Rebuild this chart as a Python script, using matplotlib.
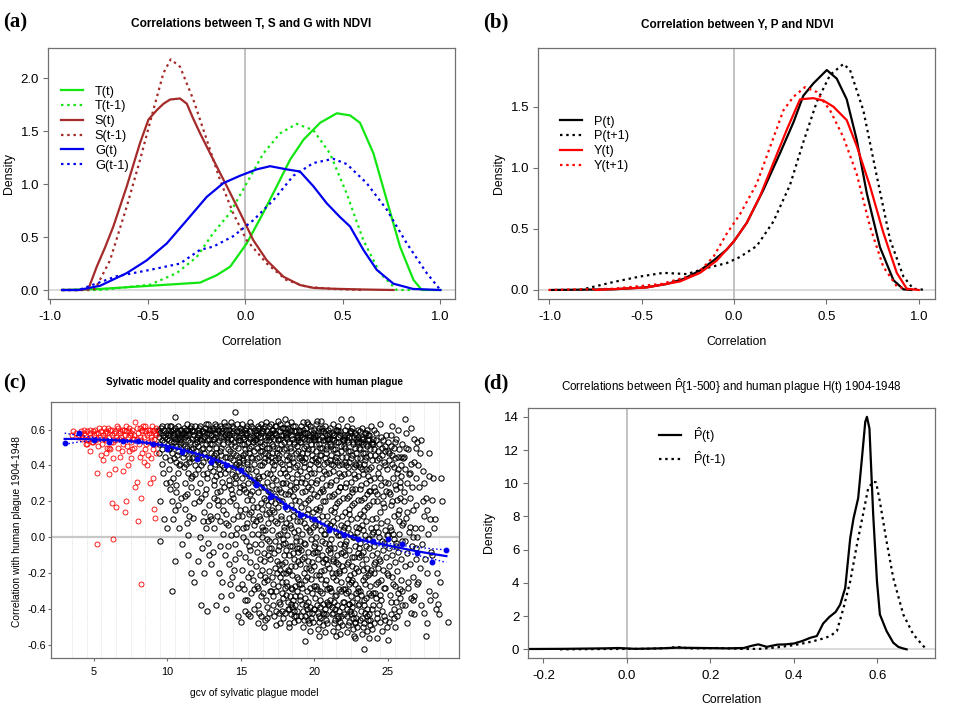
import numpy as np
import matplotlib
matplotlib.use('Agg')
import matplotlib.pyplot as plt

plt.rcParams['font.family'] = ['Liberation Sans', 'DejaVu Sans']
plt.rcParams['mathtext.fontset'] = 'custom'
plt.rcParams['mathtext.rm'] = 'Liberation Sans'
plt.rcParams['mathtext.it'] = 'Liberation Sans:italic'

GREEN, BROWN, BLUE, RED = '#11e611', '#a52a2a', '#0000ee', '#ff0000'
DOT = (0, (1.1, 1.7))

# ---- (a) density of correlations T, S, G with NDVI ---------------------------
st_x = [-0.94, -0.85, -0.805, -0.762, -0.72, -0.677, -0.608, -0.54, -0.497, -0.454, -0.42,
        -0.386, -0.335, -0.30, -0.27, -0.232, -0.164, -0.095, -0.027, 0.041, 0.11, 0.195,
        0.28, 0.35, 0.45, 0.6, 0.76]
st_y = [0, 0, 0.01, 0.22, 0.40, 0.60, 0.98, 1.39, 1.61, 1.70, 1.76, 1.80, 1.81, 1.76, 1.63,
        1.48, 1.23, 0.98, 0.73, 0.47, 0.28, 0.126, 0.047, 0.02, 0.012, 0.005, 0]
st1_x = [-0.94, -0.80, -0.77, -0.694, -0.608, -0.54, -0.472, -0.42, -0.383, -0.335, -0.267,
         -0.198, -0.13, -0.061, 0.007, 0.11, 0.21, 0.315, 0.45, 0.60]
st1_y = [0, 0, 0.01, 0.28, 0.79, 1.23, 1.70, 2.05, 2.18, 2.11, 1.80, 1.42, 1.04, 0.72, 0.47,
         0.25, 0.095, 0.03, 0.01, 0]
tt_x = [-0.94, -0.745, -0.489, -0.232, -0.147, -0.078, 0.007, 0.092, 0.161, 0.229, 0.298,
        0.383, 0.469, 0.537, 0.588, 0.657, 0.725, 0.793, 0.862, 0.905, 1.0]
tt_y = [0, 0.01, 0.04, 0.07, 0.14, 0.22, 0.44, 0.73, 0.98, 1.23, 1.42, 1.58, 1.67, 1.65, 1.58,
        1.29, 0.85, 0.41, 0.095, 0.0, 0]
tt1_x = [-0.94, -0.745, -0.489, -0.352, -0.25, -0.164, -0.078, 0.007, 0.092, 0.178, 0.263,
         0.349, 0.434, 0.52, 0.605, 0.69, 0.776, 0.85]
tt1_y = [0, 0, 0.05, 0.16, 0.31, 0.54, 0.73, 1.01, 1.29, 1.48, 1.57, 1.51, 1.29, 0.91, 0.47,
         0.16, 0, 0]
gt_x = [-0.94, -0.856, -0.745, -0.608, -0.506, -0.403, -0.30, -0.198, -0.113, -0.027, 0.058,
        0.127, 0.212, 0.28, 0.349, 0.417, 0.485, 0.537, 0.605, 0.674, 0.759, 0.86, 1.0]
gt_y = [0, 0, 0.04, 0.16, 0.28, 0.44, 0.66, 0.88, 1.01, 1.08, 1.14, 1.17, 1.14, 1.12, 0.98,
        0.82, 0.69, 0.60, 0.38, 0.19, 0.06, 0.01, 0]
gt1_x = [-0.94, -0.856, -0.66, -0.489, -0.335, -0.232, -0.164, -0.061, 0.041, 0.144, 0.246,
         0.349, 0.451, 0.52, 0.622, 0.725, 0.828, 0.93, 1.0]
gt1_y = [0, 0, 0.13, 0.19, 0.25, 0.38, 0.41, 0.51, 0.66, 0.85, 1.08, 1.20, 1.24, 1.19, 1.01,
         0.76, 0.44, 0.16, 0]

# ---- (b) density of correlations Y, P with NDVI -------------------------------
pt_x = [-0.987, -0.653, -0.473, -0.364, -0.274, -0.184, -0.112, -0.04, 0.0, 0.069, 0.159,
        0.249, 0.321, 0.375, 0.429, 0.502, 0.556, 0.61, 0.664, 0.719, 0.79, 0.863, 0.917, 0.96]
pt_y = [0, 0.005, 0.022, 0.049, 0.09, 0.16, 0.24, 0.33, 0.40, 0.55, 0.82, 1.12, 1.37, 1.59,
        1.69, 1.80, 1.73, 1.56, 1.23, 0.79, 0.35, 0.08, 0.005, 0]
pt1_x = [-0.834, -0.653, -0.509, -0.383, -0.256, -0.148, -0.04, 0.032, 0.123, 0.213, 0.303,
         0.375, 0.448, 0.52, 0.592, 0.628, 0.70, 0.773, 0.845, 0.917, 0.97, 1.04]
pt1_y = [0, 0.065, 0.11, 0.14, 0.13, 0.18, 0.22, 0.27, 0.36, 0.56, 0.86, 1.21, 1.54, 1.76,
         1.85, 1.80, 1.47, 0.93, 0.41, 0.11, 0.01, 0]
yt_x = [-0.75, -0.473, -0.292, -0.184, -0.094, 0.0, 0.069, 0.141, 0.213, 0.285, 0.357, 0.429,
        0.484, 0.538, 0.61, 0.664, 0.736, 0.808, 0.881, 0.935, 1.0]
yt_y = [0, 0.02, 0.07, 0.14, 0.24, 0.40, 0.55, 0.77, 1.04, 1.31, 1.56, 1.57, 1.55, 1.50, 1.39,
        1.18, 0.85, 0.47, 0.14, 0.01, 0]
yt1_x = [-1.005, -0.653, -0.39, -0.202, -0.112, -0.04, 0.032, 0.123, 0.195, 0.267, 0.321,
         0.384, 0.448, 0.52, 0.592, 0.664, 0.736, 0.808, 0.881, 0.95]
yt1_y = [0, 0.01, 0.05, 0.13, 0.27, 0.46, 0.62, 0.87, 1.17, 1.47, 1.58, 1.66, 1.62, 1.47, 1.25,
         0.95, 0.52, 0.19, 0.03, 0]

# ---- (c) sylvatic model gcv vs correlation with human plague ------------------
RED_PTS = """
3.5,.57 3.6,.59 3.8,.58 4.0,.57 4.1,.59 4.2,.56 4.3,.58 4.4,.57 4.5,.59 4.6,.55 4.7,.58 4.8,.56
4.9,.59 5.0,.57 5.1,.60 5.2,.55 5.3,.58 5.4,.56 5.5,.59 5.6,.57 5.7,.61 5.8,.54 5.9,.58 6.0,.56
6.1,.60 6.2,.57 6.3,.53 6.4,.59 6.5,.56 6.6,.61 6.7,.55 6.8,.58 6.9,.60 7.0,.54 7.1,.57 7.2,.62
7.3,.56 7.4,.59 7.5,.53 7.6,.60 7.7,.57 7.8,.64 7.9,.55 8.0,.58 8.1,.61 8.2,.54 8.3,.59 8.4,.56
8.5,.62 8.6,.57 8.7,.53 8.8,.60 8.9,.56 9.0,.59 9.1,.55 9.2,.61 9.25,.57
3.9,.56 4.15,.55 4.35,.60 4.55,.54 4.75,.60 4.95,.53 5.15,.58 5.35,.61 5.55,.52 5.75,.58 5.95,.61
6.15,.53 6.35,.58 6.55,.62 6.75,.59 6.95,.52 7.15,.59 7.35,.61 7.55,.58 7.75,.55 7.95,.61 8.15,.56
8.35,.62 8.55,.52 8.75,.58 8.95,.62 9.15,.58 9.2,.52
4.45,.52 4.85,.53 5.25,.51 5.65,.55 6.05,.50 6.45,.54 6.85,.56 7.25,.51 7.65,.55 8.05,.52 8.45,.59
8.85,.54 9.05,.52 5.05,.54 6.25,.60 7.45,.57 8.25,.60 8.65,.60 9.1,.60 7.05,.60 5.85,.59
4.5,.52 4.7,.48 5.2,.36 5.5,.46 5.6,.43 5.8,.47 6.0,.35 6.1,.49 6.2,.19 6.3,.44 6.4,.38 6.5,.17
6.6,.50 6.8,.45 7.0,.37 7.1,.14 7.2,.20 7.3,.40 7.4,.48 7.5,.44 7.6,.49 7.8,.28 7.9,.31 8.0,.09
8.1,.45 8.2,.22 8.3,.47 8.4,.42 8.6,.40 8.7,.46 8.8,.30 8.9,.44 9.0,.33 9.1,.16 9.15,.11 9.2,.47
5.2,-.035 6.3,-.01 8.2,-.26 5.9,.50 6.9,.48 7.7,.50 8.5,.49 9.0,.49
"""

BLACK_PTS = """
9.35,.60 9.4,.56 9.45,.52 9.5,.58 9.55,.61 9.6,.54 9.65,.49 9.7,.57 9.75,.60 9.8,.53 9.85,.45
9.9,.58 9.95,.62 9.4,.47 9.6,.41 9.7,.36 9.5,.20 9.5,-.02 9.8,.10 9.9,.30 9.45,.59 9.65,.62 9.85,.56
10.0,.55 10.05,.60 10.1,.50 10.15,.58 10.2,.62 10.25,.53 10.3,.47 10.35,.57 10.4,.60 10.45,.44
10.5,.55 10.55,.67 10.6,.51 10.65,.59 10.7,.62 10.75,.48 10.8,.56 10.85,.41 10.9,.53 10.95,.60
10.1,.38 10.2,.27 10.3,.20 10.4,.33 10.5,.15 10.6,.25 10.7,.36 10.8,.05 10.9,.22 10.5,-.13
10.3,-.30 10.2,.43 10.6,.42 10.0,.05 10.7,.18 10.4,.10
11.0,.58 11.05,.52 11.1,.61 11.15,.47 11.2,.56 11.25,.60 11.3,.50 11.35,.63 11.4,.54 11.45,.44
11.5,.58 11.55,.61 11.6,.49 11.65,.55 11.7,.60 11.75,.45 11.8,.57 11.85,.52 11.9,.62 11.95,.48
11.1,.39 11.2,.30 11.3,.24 11.4,.36 11.5,.12 11.6,.28 11.7,.34 11.8,.19 11.9,.40 11.0,-.04
11.4,.01 11.6,-.20 11.3,.08 11.8,-.25 11.5,.42 11.2,.16
12.0,.56 12.05,.60 12.1,.51 12.15,.58 12.2,.46 12.25,.62 12.3,.54 12.35,.49 12.4,.59 12.45,.42
12.5,.56 12.55,.61 12.6,.52 12.65,.45 12.7,.58 12.75,.63 12.8,.50 12.85,.55 12.9,.60 12.95,.47
12.1,.38 12.2,.30 12.3,.22 12.4,.35 12.5,.14 12.6,.27 12.7,.33 12.8,.18 12.9,.39 12.0,.25
12.3,-.38 12.7,-.41 12.5,-.20 12.8,-.10 12.2,.00 12.6,.05 12.4,.09 12.9,.12 12.1,-.13 12.75,-.03
13.0,.57 13.05,.52 13.1,.61 13.15,.46 13.2,.55 13.25,.63 13.3,.50 13.35,.58 13.4,.43 13.45,.60
13.5,.54 13.55,.48 13.6,.62 13.65,.56 13.7,.40 13.75,.59 13.8,.52 13.85,.64 13.9,.45 13.95,.57
13.1,.37 13.2,.29 13.3,.34 13.4,.21 13.5,.38 13.6,.26 13.7,.31 13.8,.15 13.9,.36 13.0,.10
13.2,.05 13.4,.12 13.6,-.05 13.8,.02 13.0,-.15 13.5,-.20 13.3,-.38 13.7,-.25 13.9,-.10 13.15,.22
13.45,.18 13.85,.28 13.55,.09 13.25,.41
14.0,.60 14.05,.55 14.1,.49 14.15,.62 14.2,.57 14.25,.44 14.3,.52 14.35,.64 14.4,.58 14.45,.47
14.5,.61 14.55,.53 14.6,.70 14.65,.41 14.7,.56 14.75,.63 14.8,.50 14.85,.59 14.9,.45 14.95,.54
14.1,.38 14.2,.32 14.3,.27 14.4,.35 14.5,.22 14.6,.30 14.7,.18 14.8,.37 14.9,.25 14.0,.13
14.15,.07 14.3,.01 14.45,.10 14.6,-.04 14.75,.05 14.9,-.09 14.0,-.40 14.2,-.15 14.4,-.22
14.6,-.12 14.8,-.28 14.35,-.32 14.95,.15 14.25,.20 14.65,.33 14.85,.42 14.55,.39
15.0,.58 15.05,.52 15.1,.63 15.15,.46 15.2,.55 15.25,.60 15.3,.49 15.35,.57 15.4,.42 15.45,.62
15.5,.53 15.55,.47 15.6,.59 15.65,.64 15.7,.51 15.75,.44 15.8,.56 15.85,.61 15.9,.48 15.95,.54
15.0,.39 15.1,.33 15.2,.27 15.3,.36 15.4,.21 15.5,.30 15.6,.24 15.7,.38 15.8,.17 15.9,.32
15.05,.12 15.15,.05 15.25,.16 15.35,-.02 15.45,.08 15.55,.13 15.65,-.07 15.75,.02 15.85,.10
15.95,-.04 15.0,-.47 15.1,-.18 15.2,-.29 15.3,-.11 15.4,-.35 15.5,-.22 15.6,-.14 15.7,-.31
15.8,-.24 15.9,-.40 15.15,.43 15.45,.41 15.75,.26 15.25,-.41 15.65,-.44
16.0,.60 16.05,.55 16.1,.50 16.15,.62 16.2,.57 16.25,.45 16.3,.53 16.35,.63 16.4,.58 16.45,.48
16.5,.61 16.55,.52 16.6,.42 16.65,.56 16.7,.64 16.75,.50 16.8,.59 16.85,.46 16.9,.54 16.95,.62
16.0,.37 16.1,.31 16.2,.25 16.3,.40 16.4,.19 16.5,.34 16.6,.28 16.7,.21 16.8,.36 16.9,.14
16.05,.09 16.15,.02 16.25,.12 16.35,-.04 16.45,.06 16.55,-.09 16.65,.04 16.75,-.01 16.85,.08
16.95,-.06 16.0,-.16 16.1,-.27 16.2,-.38 16.3,-.21 16.4,-.44 16.5,-.31 16.6,-.13 16.7,-.35
16.8,-.24 16.9,-.42 16.15,-.48 16.55,-.50 16.75,-.45 16.95,-.19 16.25,.33 16.65,.44 16.85,.26
16.45,.16
17.0,.58 17.05,.63 17.1,.52 17.15,.47 17.2,.60 17.25,.55 17.3,.43 17.35,.62 17.4,.57 17.45,.50
17.5,.65 17.55,.54 17.6,.46 17.65,.59 17.7,.63 17.75,.52 17.8,.41 17.85,.57 17.9,.61 17.95,.49
17.0,.35 17.1,.29 17.2,.38 17.3,.23 17.4,.32 17.5,.17 17.6,.27 17.7,.36 17.8,.20 17.9,.30
17.05,.11 17.15,.04 17.25,.14 17.35,-.02 17.45,.08 17.55,-.07 17.65,.02 17.75,.10 17.85,-.04
17.95,.06 17.0,-.12 17.1,-.22 17.2,-.33 17.3,-.17 17.4,-.41 17.5,-.27 17.6,-.15 17.7,-.37
17.8,-.25 17.9,-.45 17.05,-.30 17.25,-.44 17.45,-.20 17.65,-.48 17.85,-.34 17.15,.42 17.55,.44
17.75,.25 17.35,.19 17.95,-.10
18.0,.61 18.05,.56 18.1,.50 18.15,.63 18.2,.58 18.25,.45 18.3,.53 18.35,.60 18.4,.48 18.45,.64
18.5,.55 18.55,.42 18.6,.59 18.65,.52 18.7,.62 18.75,.47 18.8,.57 18.85,.40 18.9,.54 18.95,.60
18.0,.36 18.1,.30 18.2,.24 18.3,.38 18.4,.18 18.5,.33 18.6,.27 18.7,.21 18.8,.35 18.9,.13
18.05,.08 18.15,.01 18.25,.11 18.35,-.05 18.45,.05 18.55,-.09 18.65,.03 18.75,-.02 18.85,.09
18.95,-.06 18.0,-.14 18.1,-.25 18.2,-.36 18.3,-.19 18.4,-.43 18.5,-.29 18.6,-.12 18.7,-.38
18.8,-.22 18.9,-.46 18.05,-.32 18.25,-.48 18.45,-.16 18.65,-.41 18.85,-.30 18.15,.43 18.35,.26
18.55,.15 18.75,.31 18.95,.44 18.0,.66 18.3,-.50 18.5,-.39 18.7,-.27 18.9,-.08
19.0,.59 19.05,.53 19.1,.62 19.15,.47 19.2,.56 19.25,.64 19.3,.50 19.35,.58 19.4,.44 19.45,.61
19.5,.55 19.55,.49 19.6,.63 19.65,.57 19.7,.41 19.75,.60 19.8,.52 19.85,.46 19.9,.58 19.95,.54
19.0,.37 19.1,.31 19.2,.25 19.3,.39 19.4,.19 19.5,.34 19.6,.28 19.7,.22 19.8,.36 19.9,.14
19.05,.09 19.15,.02 19.25,.12 19.35,-.04 19.45,.06 19.55,-.08 19.65,.04 19.75,-.01 19.85,.10
19.95,-.05 19.0,-.15 19.1,-.26 19.2,-.37 19.3,-.20 19.4,-.44 19.5,-.30 19.6,-.13 19.7,-.39
19.8,-.23 19.9,-.47 19.05,-.33 19.25,-.50 19.45,-.17 19.65,-.42 19.85,-.31 19.4,-.58 19.15,.43
19.55,.16 19.75,.27 19.35,.30 19.95,-.40 19.5,.64
20.0,.60 20.05,.55 20.1,.48 20.15,.63 20.2,.57 20.25,.43 20.3,.52 20.35,.61 20.4,.46 20.45,.65
20.5,.56 20.55,.50 20.6,.59 20.65,.41 20.7,.54 20.75,.62 20.8,.47 20.85,.57 20.9,.51 20.95,.60
20.0,.36 20.1,.30 20.2,.23 20.3,.38 20.4,.17 20.5,.33 20.6,.26 20.7,.20 20.8,.35 20.9,.12
20.05,.07 20.15,.00 20.25,.10 20.35,-.06 20.45,.04 20.55,-.10 20.65,.02 20.75,-.03 20.85,.08
20.95,-.07 20.0,-.16 20.1,-.27 20.2,-.38 20.3,-.21 20.4,-.45 20.5,-.31 20.6,-.14 20.7,-.40
20.8,-.24 20.9,-.48 20.05,-.34 20.25,-.51 20.45,-.19 20.65,-.43 20.85,-.29 20.15,.42 20.35,.15
20.55,.27 20.75,.44 20.95,-.37 20.3,-.55 20.7,-.12 20.2,.65
21.0,.58 21.05,.52 21.1,.61 21.15,.46 21.2,.55 21.25,.63 21.3,.49 21.35,.57 21.4,.43 21.45,.60
21.5,.53 21.55,.47 21.6,.62 21.65,.56 21.7,.40 21.75,.59 21.8,.51 21.85,.66 21.9,.45 21.95,.55
21.0,.36 21.1,.29 21.2,.23 21.3,.37 21.4,.17 21.5,.32 21.6,.26 21.7,.20 21.8,.34 21.9,.12
21.05,.07 21.15,-.01 21.25,.09 21.35,-.06 21.45,.03 21.55,-.10 21.65,.01 21.75,-.04 21.85,.07
21.95,-.08 21.0,-.17 21.1,-.28 21.2,-.39 21.3,-.22 21.4,-.46 21.5,-.32 21.6,-.15 21.7,-.41
21.8,-.25 21.9,-.49 21.05,-.35 21.25,-.52 21.45,-.20 21.65,-.44 21.85,-.30 21.15,.41 21.35,.14
21.55,.42 21.75,.28 21.95,-.36 21.5,-.55 21.3,-.12 21.7,-.20
22.0,.57 22.05,.51 22.1,.60 22.15,.45 22.2,.54 22.25,.62 22.3,.48 22.35,.56 22.4,.42 22.45,.59
22.5,.66 22.55,.46 22.6,.61 22.65,.53 22.7,.39 22.75,.58 22.8,.50 22.85,.55 22.9,.44 22.95,.60
22.0,.35 22.1,.28 22.2,.22 22.3,.36 22.4,.16 22.5,.31 22.6,.25 22.7,.19 22.8,.33 22.9,.11
22.05,.06 22.15,-.02 22.25,.08 22.35,-.07 22.45,.02 22.55,-.11 22.65,.00 22.75,-.05 22.85,.06
22.95,-.09 22.0,-.18 22.1,-.29 22.2,-.40 22.3,-.23 22.4,-.47 22.5,-.33 22.6,-.16 22.7,-.42
22.8,-.26 22.9,-.50 22.05,-.36 22.25,-.53 22.45,-.21 22.65,-.45 22.85,-.31 22.15,.40 22.35,.13
22.55,.27 22.75,.41 22.95,-.38 22.8,-.56 22.4,-.26 22.6,-.36
23.0,.56 23.05,.50 23.1,.59 23.15,.44 23.2,.53 23.25,.61 23.3,.47 23.35,.55 23.4,.41 23.45,.58
23.5,.52 23.55,.45 23.6,.60 23.65,.54 23.7,.38 23.75,.57 23.8,.49 23.85,.62 23.9,.43 23.95,.53
23.0,.34 23.1,.27 23.2,.21 23.3,.35 23.4,.15 23.5,.30 23.6,.24 23.7,.18 23.8,.32 23.9,.10
23.05,.05 23.15,-.03 23.25,.07 23.35,-.08 23.45,.01 23.55,-.12 23.65,-.01 23.75,-.06 23.85,.05
23.95,-.10 23.0,-.19 23.1,-.30 23.2,-.41 23.3,-.24 23.4,-.48 23.5,-.34 23.6,-.17 23.7,-.43
23.8,-.27 23.9,-.51 23.05,-.37 23.25,-.54 23.45,-.22 23.65,-.46 23.85,-.32 23.4,-.62 23.15,.39
23.55,.38 23.75,.26 23.35,.12
24.0,.55 24.1,.49 24.2,.58 24.3,.43 24.4,.52 24.5,.63 24.6,.46 24.7,.54 24.8,.40 24.9,.57
24.05,.33 24.15,.26 24.25,.20 24.35,.36 24.45,.14 24.55,.29 24.65,.23 24.75,.17 24.85,.31
24.95,.09 24.0,.03 24.1,-.05 24.2,.06 24.3,-.09 24.4,.00 24.5,-.13 24.6,-.02 24.7,-.07 24.8,.04
24.9,-.11 24.05,-.20 24.15,-.31 24.25,-.42 24.35,-.25 24.45,-.47 24.55,-.35 24.65,-.18
24.75,-.44 24.85,-.28 24.95,-.50 24.3,-.56 24.6,-.52 24.1,.60 24.8,.48 24.4,.39
25.0,.53 25.1,.47 25.2,.57 25.3,.41 25.4,.50 25.5,.44 25.6,.55 25.7,.38 25.8,.49 25.9,.34
25.05,.30 25.15,.24 25.25,.18 25.35,.33 25.45,.12 25.55,.27 25.65,.21 25.75,.15 25.85,.28
25.95,.07 25.0,.01 25.1,-.06 25.2,.04 25.3,-.10 25.4,-.01 25.5,-.14 25.6,-.03 25.7,-.08 25.8,.02
25.9,-.12 25.05,-.21 25.15,-.32 25.25,-.43 25.35,-.26 25.45,-.45 25.55,-.36 25.65,-.19
25.75,-.41 25.85,-.29 25.95,-.38 25.0,-.57 25.5,-.50 25.3,.62 25.7,.60 25.9,.45
26.0,.52 26.1,.45 26.15,.66 26.2,.38 26.3,.30 26.4,.49 26.5,.22 26.6,.41 26.7,.15 26.8,.55
26.9,.33 26.05,.08 26.15,-.02 26.25,.11 26.35,-.09 26.45,.03 26.55,-.15 26.65,-.05 26.75,-.22
26.85,.05 26.95,-.12 26.0,-.30 26.2,-.38 26.4,-.25 26.6,-.42 26.8,-.33 26.3,-.48 26.7,-.35
26.1,.25 26.5,.36 26.9,.18 26.25,.58 26.6,.61 26.95,.50
27.0,.53 27.2,.47 27.3,.54 27.4,.37 27.5,.30 27.6,.22 27.7,.15 27.8,.47 27.9,.10 27.05,.40
27.15,.28 27.25,.05 27.35,-.04 27.45,.12 27.55,-.12 27.65,-.20 27.75,.02 27.85,-.30 27.95,-.08
27.1,-.25 27.3,-.38 27.5,-.42 27.7,-.48 27.9,-.35 27.2,-.17 27.6,-.55 27.4,.20 27.8,.34 27.0,.00
28.0,.21 28.1,.33 28.2,-.32 28.3,-.40 28.4,-.37 28.5,-.43 28.6,.33 28.7,.20 28.15,.05 28.35,-.20
28.05,-.10 28.55,-.25 29.1,-.47 28.25,.10
"""

BLACK_PTS_2 = """
10.025,.57 10.125,.54 10.225,.59 10.325,.51 10.425,.56 10.525,.61 10.625,.46 10.725,.58 10.825,.52
10.925,.57 10.075,.49 10.275,.62 10.475,.53 10.675,.55 10.875,.60 10.175,.31 10.575,.29 10.775,.40
11.025,.56 11.125,.58 11.225,.51 11.325,.60 11.425,.57 11.525,.53 11.625,.62 11.725,.50 11.825,.59
11.925,.55 11.075,.45 11.275,.41 11.475,.48 11.675,.44 11.875,.35 11.175,.23 11.575,.33 11.775,.11
11.375,-.10
12.025,.53 12.125,.61 12.225,.55 12.325,.59 12.425,.50 12.525,.58 12.625,.63 12.725,.54 12.825,.60
12.925,.52 12.075,.44 12.275,.40 12.475,.47 12.675,.36 12.875,.43 12.175,.20 12.575,.24 12.775,.09
12.375,-.06
13.025,.60 13.125,.55 13.225,.58 13.325,.62 13.425,.53 13.525,.59 13.625,.50 13.725,.61 13.825,.56
13.925,.62 13.075,.44 13.275,.47 13.475,.42 13.675,.46 13.875,.39 13.175,.32 13.375,.25 13.575,.35
13.775,.20 13.975,.08 13.125,-.08 13.625,-.33
14.025,.58 14.125,.53 14.225,.60 14.325,.55 14.425,.62 14.525,.57 14.625,.51 14.725,.59 14.825,.54
14.925,.61 14.075,.45 14.275,.48 14.475,.43 14.675,.46 14.875,.40 14.175,.29 14.375,.24 14.575,.34
14.775,.12 14.975,.28 14.125,-.05 14.525,-.18 14.825,-.44 14.275,-.26 14.675,.02
15.025,.60 15.125,.56 15.225,.52 15.325,.61 15.425,.58 15.525,.50 15.625,.55 15.725,.62 15.825,.53
15.925,.59 15.075,.44 15.275,.47 15.475,.38 15.675,.45 15.875,.41 15.175,.29 15.375,.25 15.575,.34
15.775,.21 15.975,.30 15.125,.00 15.325,.06 15.525,-.05 15.725,.14 15.925,.07 15.075,-.26
15.275,-.35 15.475,-.43 15.675,-.20 15.875,-.29
16.025,.58 16.125,.53 16.225,.61 16.325,.56 16.425,.51 16.525,.59 16.625,.62 16.725,.54 16.825,.57
16.925,.50 16.075,.44 16.275,.48 16.475,.40 16.675,.47 16.875,.43 16.175,.34 16.375,.28 16.575,.22
16.775,.31 16.975,.25 16.125,.17 16.325,.10 16.525,.04 16.725,.13 16.925,-.02 16.075,-.08
16.275,-.12 16.475,-.18 16.675,-.22 16.875,-.10 16.175,-.28 16.375,-.33 16.575,-.25 16.775,-.39
16.975,-.30 16.225,-.42 16.625,-.46 16.425,.00 16.825,.18
17.025,.56 17.125,.60 17.225,.51 17.325,.58 17.425,.62 17.525,.55 17.625,.49 17.725,.57 17.825,.61
17.925,.53 17.075,.45 17.275,.40 17.475,.47 17.675,.42 17.875,.38 17.175,.33 17.375,.27 17.575,.21
17.775,.30 17.975,.24 17.125,.15 17.325,.09 17.525,.01 17.725,.12 17.925,.04 17.075,-.06
17.275,-.09 17.475,-.13 17.675,-.18 17.875,-.20 17.175,-.26 17.375,-.30 17.575,-.36 17.775,-.41
17.975,-.28 17.225,-.38 17.625,-.42 17.425,-.49 17.825,-.15 17.025,.20
18.025,.58 18.125,.55 18.225,.61 18.325,.50 18.425,.57 18.525,.62 18.625,.53 18.725,.59 18.825,.51
18.925,.56 18.075,.46 18.275,.41 18.475,.44 18.675,.39 18.875,.48 18.175,.34 18.375,.29 18.575,.23
18.775,.28 18.975,.20 18.125,.16 18.325,.07 18.525,.12 18.725,.00 18.925,.04 18.075,-.07
18.275,-.10 18.475,-.21 18.675,-.16 18.875,-.13 18.175,-.27 18.375,-.33 18.575,-.35 18.775,-.44
18.975,-.26 18.225,-.40 18.625,-.47 18.425,-.37 18.825,-.41 18.025,-.03
19.025,.57 19.125,.53 19.225,.60 19.325,.55 19.425,.51 19.525,.58 19.625,.54 19.725,.62 19.825,.49
19.925,.56 19.075,.45 19.275,.42 19.475,.47 19.675,.38 19.875,.43 19.175,.33 19.375,.26 19.575,.21
19.775,.31 19.975,.24 19.125,.17 19.325,.08 19.525,.13 19.725,.03 19.925,.06 19.075,-.07
19.275,-.11 19.475,-.22 19.675,-.17 19.875,-.14 19.175,-.28 19.375,-.34 19.575,-.36 19.775,-.45
19.975,-.27 19.225,-.41 19.625,-.48 19.425,-.38 19.825,-.42 19.025,-.02 19.725,-.52 19.325,-.46
20.025,.56 20.125,.52 20.225,.59 20.325,.55 20.425,.50 20.525,.61 20.625,.54 20.725,.58 20.825,.49
20.925,.55 20.075,.44 20.275,.41 20.475,.46 20.675,.37 20.875,.42 20.175,.32 20.375,.25 20.575,.20
20.775,.29 20.975,.23 20.125,.16 20.325,.07 20.525,.12 20.725,.02 20.925,.05 20.075,-.08
20.275,-.12 20.475,-.23 20.675,-.18 20.875,-.15 20.175,-.29 20.375,-.35 20.575,-.37 20.775,-.46
20.975,-.28 20.225,-.42 20.625,-.49 20.425,-.39 20.825,-.43 20.025,-.03 20.725,-.53 20.325,-.47
21.025,.55 21.125,.51 21.225,.58 21.325,.54 21.425,.49 21.525,.60 21.625,.53 21.725,.57 21.825,.48
21.925,.54 21.075,.43 21.275,.40 21.475,.45 21.675,.36 21.875,.41 21.175,.31 21.375,.24 21.575,.19
21.775,.28 21.975,.22 21.125,.15 21.325,.06 21.525,.11 21.725,.01 21.925,.04 21.075,-.09
21.275,-.13 21.475,-.24 21.675,-.19 21.875,-.16 21.175,-.30 21.375,-.36 21.575,-.38 21.775,-.47
21.975,-.29 21.225,-.43 21.625,-.50 21.425,-.40 21.825,-.44 21.025,-.04 21.725,-.54 21.325,-.48
22.025,.54 22.125,.50 22.225,.57 22.325,.53 22.425,.48 22.525,.59 22.625,.52 22.725,.56 22.825,.47
22.925,.53 22.075,.42 22.275,.39 22.475,.44 22.675,.35 22.875,.40 22.175,.30 22.375,.23 22.575,.18
22.775,.27 22.975,.21 22.125,.14 22.325,.05 22.525,.10 22.725,.00 22.925,.03 22.075,-.10
22.275,-.14 22.475,-.25 22.675,-.20 22.875,-.17 22.175,-.31 22.375,-.37 22.575,-.39 22.775,-.48
22.975,-.30 22.225,-.44 22.625,-.51 22.425,-.41 22.825,-.45 22.025,-.05 22.725,-.55 22.325,-.49
23.025,.53 23.125,.49 23.225,.56 23.325,.52 23.425,.47 23.525,.58 23.625,.51 23.725,.55 23.825,.46
23.925,.52 23.075,.41 23.275,.38 23.475,.43 23.675,.34 23.875,.39 23.175,.29 23.375,.22 23.575,.17
23.775,.26 23.975,.20 23.125,.13 23.325,.04 23.525,.09 23.725,-.01 23.925,.02 23.075,-.11
23.275,-.15 23.475,-.26 23.675,-.21 23.875,-.18 23.175,-.32 23.375,-.38 23.575,-.40 23.775,-.49
23.975,-.31 23.225,-.45 23.625,-.52 23.425,-.42 23.825,-.46 23.025,-.06 23.725,-.56 23.325,-.50
24.025,.52 24.125,.46 24.225,.54 24.325,.48 24.425,.44 24.525,.56 24.625,.50 24.725,.42 24.825,.51
24.925,.38 24.075,.28 24.275,.24 24.475,.33 24.675,.19 24.875,.26 24.175,.11 24.375,.03 24.575,.08
24.775,-.03 24.975,.01 24.125,-.14 24.325,-.17 24.525,-.24 24.725,-.28 24.925,-.20 24.225,-.34
24.425,-.38 24.625,-.41 24.825,-.46 24.075,-.48
25.025,.48 25.125,.43 25.225,.51 25.325,.46 25.425,.39 25.525,.53 25.625,.36 25.725,.45 25.825,.31
25.925,.40 25.075,.25 25.275,.20 25.475,.29 25.675,.13 25.875,.22 25.175,.06 25.375,.02 25.575,-.05
25.775,.09 25.975,-.02 25.125,-.16 25.325,-.22 25.525,-.27 25.725,-.31 25.925,-.24 25.225,-.36
25.425,-.40 25.625,-.44 25.825,-.34 25.075,-.47
26.025,.44 26.225,.50 26.425,.35 26.625,.28 26.825,.42 26.125,.20 26.325,.14 26.525,.06 26.725,.00
26.925,-.06 26.175,-.16 26.375,-.28 26.575,-.34 26.775,-.43 26.975,-.26
"""

BLACK_PTS_3 = """
17.6,-.05 17.8,-.31 18.0,-.42 18.2,-.18 18.4,-.28 18.6,-.44 18.8,-.06 19.0,-.35 19.2,-.12 19.4,-.24
19.6,-.46 19.8,-.18 20.0,-.40 20.2,-.08 20.4,-.30 20.6,-.42 20.8,-.12 21.0,-.38 21.2,-.20 21.4,-.33
21.6,-.45 21.8,-.09 22.0,-.43 22.2,-.15 22.4,-.37 22.6,-.24 22.8,-.47 23.0,-.28 23.2,-.10 23.4,-.35
23.6,-.44 23.8,-.20 24.0,-.38 24.2,-.26 24.4,-.12
17.7,-.22 17.9,-.01 18.1,-.20 18.3,-.40 18.5,-.05 18.7,-.33 18.9,-.23 19.1,-.44 19.3,-.03 19.5,-.40
19.7,-.28 19.9,-.09 20.1,-.21 20.3,-.44 20.5,-.02 20.7,-.26 20.9,-.36 21.1,-.06 21.3,-.42 21.5,-.14
21.7,-.29 21.9,-.39 22.1,-.04 22.3,-.30 22.5,-.43 22.7,-.11 22.9,-.34 23.1,-.46 23.3,-.18 23.5,-.05
23.7,-.31 23.9,-.40 24.1,-.15 24.3,-.45 24.5,-.32
10.45,.58 10.85,.55 11.25,.57 11.65,.59 12.05,.57 12.45,.55 12.85,.58 13.25,.56 13.65,.58 14.05,.56
14.45,.59 14.85,.56 15.25,.58 15.65,.56 16.05,.57 16.45,.59 16.85,.56 17.25,.58 17.65,.55 18.05,.57
18.45,.59 18.85,.56 19.25,.58 19.65,.56 20.05,.57 20.45,.59 20.85,.55 21.25,.57 21.65,.59 22.05,.56
22.45,.58 22.85,.57 23.25,.55 23.65,.57
"""

fit_x = [3, 4, 5, 6, 7, 8, 9, 10, 11, 12, 13, 14, 15, 16, 17, 18, 19, 20, 21, 22, 23, 24, 25,
         26, 27, 28, 29]
fit_y = [0.548, 0.548, 0.545, 0.542, 0.538, 0.532, 0.522, 0.508, 0.488, 0.465, 0.44, 0.41,
         0.37, 0.31, 0.245, 0.185, 0.135, 0.10, 0.055, 0.02, -0.01, -0.03, -0.045, -0.062,
         -0.078, -0.092, -0.105]
fit_hi = [0.58, 0.566, 0.556, 0.55, 0.546, 0.54, 0.53, 0.516, 0.496, 0.473, 0.448, 0.418,
          0.378, 0.318, 0.253, 0.193, 0.143, 0.108, 0.063, 0.028, -0.002, -0.021, -0.034,
          -0.046, -0.056, -0.064, -0.07]
fit_lo = [0.518, 0.532, 0.535, 0.534, 0.53, 0.524, 0.514, 0.500, 0.480, 0.457, 0.432, 0.402,
          0.362, 0.302, 0.237, 0.177, 0.127, 0.092, 0.047, 0.012, -0.018, -0.039, -0.058,
          -0.079, -0.100, -0.120, -0.140]
bin_x = fit_x
bin_y = [0.527, 0.58, 0.54, 0.532, 0.535, 0.535, 0.52, 0.49, 0.477, 0.436, 0.42, 0.40, 0.375,
         0.29, 0.225, 0.17, 0.125, 0.10, 0.04, 0.015, -0.01, -0.02, -0.01, -0.036, -0.086,
         -0.14, -0.07]

# ---- (d) correlations of P-hat with human plague ------------------------------
ph_x = [-0.236, -0.15, -0.05, -0.02, 0.02, 0.08, 0.12, 0.18, 0.24, 0.28, 0.30, 0.315, 0.335,
        0.36, 0.38, 0.40, 0.42, 0.44, 0.455, 0.47, 0.485, 0.50, 0.511, 0.523, 0.535, 0.543,
        0.554, 0.563, 0.571, 0.575, 0.581, 0.590, 0.599, 0.606, 0.622, 0.638, 0.650, 0.662, 0.670]
ph_y = [0.02, 0.03, 0.06, 0.08, 0.03, 0.06, 0.10, 0.08, 0.06, 0.08, 0.22, 0.30, 0.15, 0.28,
        0.30, 0.35, 0.50, 0.70, 0.80, 1.55, 1.95, 2.25, 2.70, 3.70, 6.70, 7.90, 9.10, 11.5,
        13.7, 14.0, 13.3, 8.1, 4.1, 2.1, 1.1, 0.4, 0.15, 0.05, 0.0]
ph1_x = [-0.16, -0.05, 0.05, 0.10, 0.12, 0.15, 0.22, 0.28, 0.32, 0.36, 0.40, 0.44, 0.47, 0.487,
         0.503, 0.519, 0.535, 0.551, 0.567, 0.578, 0.590, 0.597, 0.606, 0.622, 0.638, 0.662,
         0.686, 0.71, 0.718]
ph1_y = [0.0, 0.02, 0.03, 0.08, 0.15, 0.05, 0.08, 0.02, 0.03, 0.12, 0.25, 0.45, 0.65, 0.80,
         1.10, 2.50, 4.10, 6.30, 8.30, 9.70, 10.1, 10.05, 8.9, 6.5, 4.3, 2.1, 0.9, 0.2, 0.0]


def pts(s):
    a = np.array([p.split(',') for p in s.split()], dtype=float)
    return a[:, 0], a[:, 1]


def style(ax, fs, xpad=4, ypad=2, tl=3.5):
    for s in ax.spines.values():
        s.set_color('#707070')
        s.set_linewidth(0.9)
    ax.tick_params(direction='out', length=tl, width=0.8, color='#707070', labelsize=fs)
    ax.tick_params(axis='x', pad=xpad)
    ax.tick_params(axis='y', pad=ypad)


def zero_lines(ax, vert=True):
    ax.axhline(0, color='#d8d8d8', lw=1.3, zorder=0)
    if vert:
        ax.axvline(0, color='#bdbdbd', lw=1.3, zorder=0)


fig = plt.figure(figsize=(9.6, 7.2), dpi=100)
W, H = 960.0, 720.0


def px_axes(l, r, t, b):
    return fig.add_axes([l / W, 1 - b / H, (r - l) / W, (b - t) / H])


# (a)
ax = px_axes(48, 455, 48, 299)
zero_lines(ax)
ax.plot(tt_x, tt_y, color=GREEN, lw=1.6, label='T(t)')
ax.plot(tt1_x, tt1_y, color=GREEN, lw=1.6, ls=DOT, label='T(t-1)')
ax.plot(st_x, st_y, color=BROWN, lw=1.6, label='S(t)')
ax.plot(st1_x, st1_y, color=BROWN, lw=1.6, ls=DOT, label='S(t-1)')
ax.plot(gt_x, gt_y, color=BLUE, lw=1.6, label='G(t)')
ax.plot(gt1_x, gt1_y, color=BLUE, lw=1.6, ls=DOT, label='G(t-1)')
ax.set_xlim(-1.012, 1.075)
ax.set_ylim(-0.085, 2.287)
ax.set_xticks([-1, -0.5, 0, 0.5, 1])
ax.set_xticklabels(['-1.0', '-0.5', '0.0', '0.5', '1.0'])
ax.set_yticks([0, 0.5, 1, 1.5, 2])
ax.set_yticklabels(['0.0', '0.5', '1.0', '1.5', '2.0'])
style(ax, 9.5, xpad=5, ypad=3)
ax.legend(loc='upper left', bbox_to_anchor=(0.032, 0.85), frameon=False, fontsize=9.2,
          handlelength=1.75, handletextpad=0.9, labelspacing=0.22, borderpad=0, borderaxespad=0)

# (b)
ax = px_axes(538.3, 935, 47.7, 299)
zero_lines(ax)
ax.plot(pt_x, pt_y, color='black', lw=1.6, label='P(t)')
ax.plot(pt1_x, pt1_y, color='black', lw=1.6, ls=DOT, label='P(t+1)')
ax.plot(yt_x, yt_y, color=RED, lw=1.6, label='Y(t)')
ax.plot(yt1_x, yt1_y, color=RED, lw=1.6, ls=DOT, label='Y(t+1)')
ax.set_xlim(-1.06, 1.088)
ax.set_ylim(-0.074, 1.983)
ax.set_xticks([-1, -0.5, 0, 0.5, 1])
ax.set_xticklabels(['-1.0', '-0.5', '0.0', '0.5', '1.0'])
ax.set_yticks([0, 0.5, 1, 1.5])
ax.set_yticklabels(['0.0', '0.5', '1.0', '1.5'])
style(ax, 9.5, xpad=5, ypad=3)
ax.legend(loc='upper left', bbox_to_anchor=(0.055, 0.73), frameon=False, fontsize=9.2,
          handlelength=1.75, handletextpad=0.9, labelspacing=0.22, borderpad=0, borderaxespad=0)

# (c)
ax = px_axes(50.7, 459.3, 402.3, 657.7)
for gx in np.arange(3.5, 29, 1.0):
    ax.axvline(gx, color='#d6d6d6', lw=0.6, ls=(0, (1, 1.5)), zorder=0)
ax.axhline(0, color='#c8c8c8', lw=1.6, zorder=0)
bx, by = pts(BLACK_PTS)
bx2, by2 = pts(BLACK_PTS_2)
bx3, by3 = pts(BLACK_PTS_3)
rx, ry = pts(RED_PTS)
ax.plot(np.r_[bx, bx2, bx3], np.r_[by, by2, by3], 'o', mfc='none', mec='black', ms=3.8,
        mew=0.75, zorder=2)
ax.plot(rx, ry, 'o', mfc='none', mec=RED, ms=3.6, mew=0.6, zorder=2)
ax.plot(fit_x, fit_hi, color=BLUE, lw=1.0, ls=DOT, zorder=3)
ax.plot(fit_x, fit_lo, color=BLUE, lw=1.0, ls=DOT, zorder=3)
ax.plot(fit_x, fit_y, color=BLUE, lw=1.6, zorder=4)
ax.plot(bin_x, bin_y, 'o', color=BLUE, ms=3.2, zorder=4)
ax.set_xlim(2.05, 29.88)
ax.set_ylim(-0.671, 0.752)
ax.set_xticks([5, 10, 15, 20, 25])
ax.set_yticks([-0.6, -0.4, -0.2, 0, 0.2, 0.4, 0.6])
ax.set_yticklabels(['-0.6', '-0.4', '-0.2', '0.0', '0.2', '0.4', '0.6'])
style(ax, 7.8, xpad=4, ypad=1, tl=2.5)

# (d)
ax = px_axes(528.3, 935, 407.7, 658.3)
zero_lines(ax)
ax.plot(ph_x, ph_y, color='black', lw=1.6, label=r'$\hat{\mathrm{P}}$(t)')
ax.plot(ph1_x, ph1_y, color='black', lw=1.6, ls=DOT, label=r'$\hat{\mathrm{P}}$(t-1)')
ax.set_xlim(-0.236, 0.738)
ax.set_ylim(-0.54, 14.55)
ax.set_xticks([-0.2, 0, 0.2, 0.4, 0.6])
ax.set_xticklabels(['-0.2', '0.0', '0.2', '0.4', '0.6'])
ax.set_yticks([0, 2, 4, 6, 8, 10, 12, 14])
style(ax, 9.5, xpad=5, ypad=3)
ax.legend(loc='upper left', bbox_to_anchor=(0.321, 0.93), frameon=False, fontsize=9.2,
          handlelength=1.75, handletextpad=0.9, labelspacing=0.35, borderpad=0, borderaxespad=0)

# titles, axis labels and panel letters
fig.text(251.5 / W, 1 - 24 / H, 'Correlations between T, S and G with NDVI', ha='center',
         va='center', fontsize=8.6, fontweight='bold')
fig.text(737 / W, 1 - 25 / H, 'Correlation between Y, P and NDVI', ha='center', va='center',
         fontsize=8.5, fontweight='bold')
fig.text(254 / W, 1 - 382 / H, 'Sylvatic model quality and correspondence with human plague',
         ha='center', va='center', fontsize=7.15, fontweight='bold')
fig.text(731.7 / W, 1 - 386 / H,
         r'Correlations between $\hat{\mathrm{P}}$' + '{1-500} and human plague H(t) 1904-1948',
         ha='center', va='center', fontsize=8.4)

fig.text(251.7 / W, 1 - 342 / H, 'Correlation', ha='center', va='center', fontsize=8.8)
fig.text(736.7 / W, 1 - 341.7 / H, 'Correlation', ha='center', va='center', fontsize=8.8)
fig.text(254.7 / W, 1 - 693.3 / H, 'gcv of sylvatic plague model', ha='center', va='center',
         fontsize=7.4)
fig.text(731.7 / W, 1 - 700 / H, 'Correlation', ha='center', va='center', fontsize=8.8)
fig.text(9.3 / W, 1 - 173 / H, 'Density', rotation=90, ha='center', va='center', fontsize=8.8)
fig.text(499 / W, 1 - 173 / H, 'Density', rotation=90, ha='center', va='center', fontsize=8.8)
fig.text(489 / W, 1 - 532.5 / H, 'Density', rotation=90, ha='center', va='center', fontsize=8.8)
fig.text(17.2 / W, 1 - 531.7 / H, 'Correlation with human plague 1904-1948', rotation=90,
         ha='center', va='center', fontsize=7.4)

for lbl, x, y in [('(a)', 3, 22), ('(b)', 483, 22), ('(c)', 3, 383), ('(d)', 483, 383)]:
    fig.text(x / W, 1 - y / H, lbl, ha='left', va='center', fontsize=15, fontweight='bold',
             family='Liberation Serif')

fig.savefig('out.png', dpi=100)
